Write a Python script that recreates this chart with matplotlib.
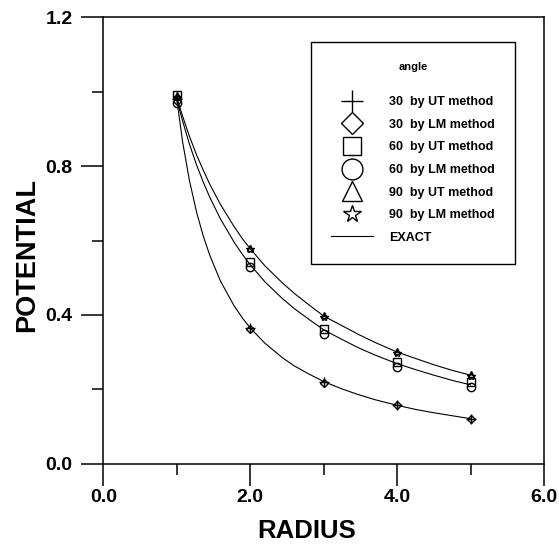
import matplotlib
matplotlib.use("Agg")
import matplotlib.pyplot as plt
from matplotlib.lines import Line2D

plt.rcParams['font.family'] = ['Liberation Sans', 'DejaVu Sans']

# ---- data ----
radius = [1.0, 2.0, 3.0, 4.0, 5.0]
ut30 = [0.980, 0.365, 0.220, 0.159, 0.121]
lm30 = [0.975, 0.362, 0.218, 0.157, 0.119]
ut60 = [0.990, 0.542, 0.362, 0.273, 0.219]
lm60 = [0.970, 0.528, 0.348, 0.259, 0.206]
ut90 = [0.990, 0.580, 0.399, 0.302, 0.240]
lm90 = [0.985, 0.576, 0.395, 0.298, 0.236]

exact_r = [1.0, 1.08, 1.173, 1.27, 1.361, 1.45, 1.595, 1.782, 1.9, 2.0, 2.2, 2.438,
           2.6, 2.8, 3.0, 3.25, 3.469, 3.7, 4.0, 4.25, 4.5, 4.75, 5.0]
exact30 = [0.980, 0.865, 0.761, 0.676, 0.612, 0.560, 0.491, 0.424, 0.390, 0.365, 0.324, 0.285,
           0.263, 0.241, 0.221, 0.201, 0.186, 0.172, 0.157, 0.146, 0.137, 0.129, 0.121]
exact60 = [0.980, 0.921, 0.859, 0.803, 0.757, 0.716, 0.658, 0.595, 0.561, 0.535, 0.489, 0.444,
           0.417, 0.388, 0.360, 0.334, 0.312, 0.292, 0.269, 0.253, 0.238, 0.224, 0.212]
exact90 = [0.985, 0.934, 0.880, 0.830, 0.789, 0.751, 0.697, 0.637, 0.603, 0.578, 0.532, 0.486,
           0.458, 0.427, 0.397, 0.371, 0.348, 0.326, 0.300, 0.283, 0.266, 0.251, 0.238]

x_ticks = [0.0, 2.0, 4.0, 6.0]
y_ticks = [0.0, 0.4, 0.8, 1.2]
legend_labels = ["30  by UT method", "30  by LM method", "60  by UT method",
                 "60  by LM method", "90  by UT method", "90  by LM method", "EXACT"]

fig = plt.figure(figsize=(5.59, 5.46), dpi=100)
ax = fig.add_axes([0.1848, 0.1507, 0.9732 - 0.1848, 0.9683 - 0.1507])

lw_curve = 0.8
for ys in (exact30, exact60, exact90):
    ax.plot(exact_r, ys, color='black', lw=lw_curve)

mk = dict(color='black', ls='none', mfc='none', mec='black', mew=1.0)
ax.plot(radius, ut30, marker='+', ms=7, **mk)
ax.plot(radius, lm30, marker='D', ms=4, **mk)
ax.plot(radius, ut60, marker='s', ms=5.5, **mk)
ax.plot(radius, lm60, marker='o', ms=6, **mk)
ax.plot(radius, ut90, marker='^', ms=5, **mk)
ax.plot(radius, lm90, marker='*', ms=6, **mk)

ax.set_xlim(0, 6)
ax.set_ylim(0, 1.2)
ax.set_xticks(x_ticks)
ax.set_xticklabels([f"{v:.1f}" for v in x_ticks])
ax.set_yticks(y_ticks)
ax.set_yticklabels([f"{v:.1f}" for v in y_ticks])
ax.set_xticks([1, 3, 5], minor=True)
ax.set_yticks([0.2, 0.6, 1.0], minor=True)
ax.tick_params(which='major', direction='out', length=16, width=1.1, labelsize=14)
ax.tick_params(axis='x', which='major', pad=2)
ax.tick_params(axis='y', which='major', pad=6)
ax.tick_params(which='minor', direction='out', length=8, width=1.1)
for lab in ax.get_xticklabels() + ax.get_yticklabels():
    lab.set_fontweight('bold')
for s in ax.spines.values():
    s.set_linewidth(1.1)

ax.set_xlabel("RADIUS", fontsize=18.5, fontweight='bold')
ax.set_ylabel("POTENTIAL", fontsize=19.5, fontweight='bold')
ax.xaxis.set_label_coords(0.462, -0.123)
ax.yaxis.set_label_coords(-0.143, 0.4675)

handles = [
    Line2D([], [], marker='+', ms=16, **mk),
    Line2D([], [], marker='D', ms=10.7, **mk),
    Line2D([], [], marker='s', ms=13, **mk),
    Line2D([], [], marker='o', ms=15, **mk),
    Line2D([], [], marker='^', ms=15, **mk),
    Line2D([], [], marker='*', ms=13, **mk),
    Line2D([], [], color='black', lw=lw_curve),
]
leg = ax.legend(handles, legend_labels, loc='upper left',
                bbox_to_anchor=(0.471, 0.945, 0.463, 0), mode='expand',
                title='angle\n', title_fontsize=8,
                prop={'weight': 'bold', 'size': 9},
                frameon=True, fancybox=False, edgecolor='black', framealpha=1,
                handlelength=3.36, handletextpad=1.28, labelspacing=0.85,
                borderpad=1.6, borderaxespad=0)
leg.get_frame().set_linewidth(1.0)
leg.get_title().set_fontweight('bold')
leg.get_title().set_linespacing(1.45)

fig.savefig("out.png", dpi=100)
